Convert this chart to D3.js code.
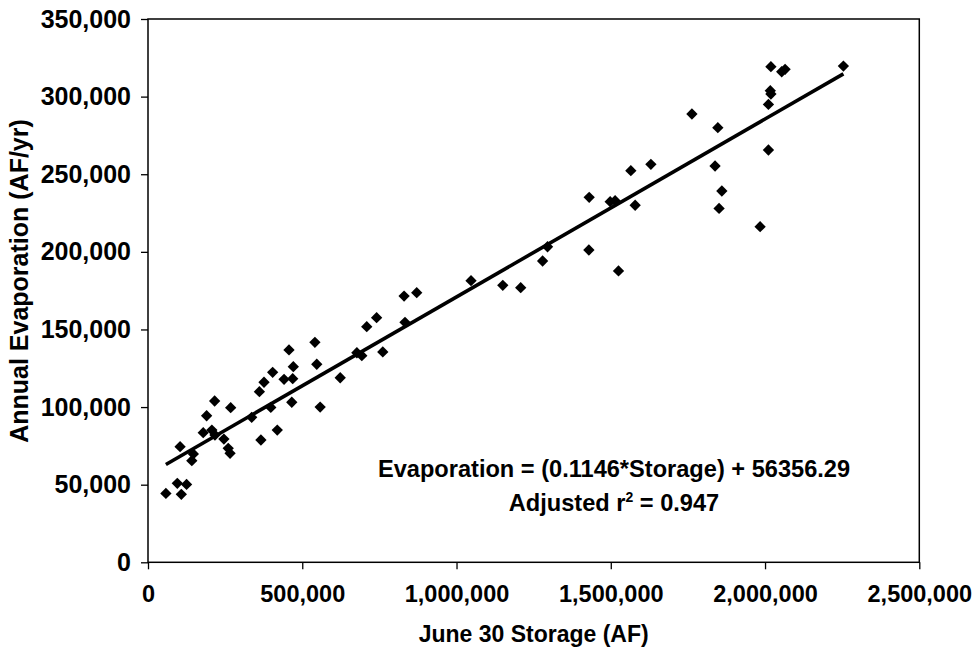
<!DOCTYPE html>
<html>
<head>
<meta charset="utf-8">
<script src="https://cdn.jsdelivr.net/npm/d3@7"></script>
<style>
  html, body { margin: 0; padding: 0; background: #fff; }
  svg text { font-family: "Liberation Sans", Arial, sans-serif; font-weight: bold; fill: #000; }
</style>
</head>
<body>
<div id="chart"></div>
<script>
// June 30 storage (AF) and annual evaporation (AF/yr)
const storage = [
  58000, 95000, 125000, 108000, 104000, 147000, 142000, 179000, 190000, 216000,
  207000, 217000, 246000, 260000, 266000, 268000, 336000, 366000, 361000, 376000,
  404000, 398000, 419000, 441000, 457000, 471000, 469000, 466000, 541000, 547000,
  558000, 623000, 677000, 693000, 761000, 709000, 741000, 833000, 830000, 871000,
  1047000, 1150000, 1208000, 1279000, 1295000, 1429000, 1430000, 1525000, 1498000, 1514000,
  1579000, 1565000, 1630000, 1838000, 1860000, 1851000, 1763000, 1847000, 1984000, 2011000,
  2011000, 2017000, 2019000, 2019000, 2054000, 2065000, 2254000,
];
const evaporation = [
  44400, 50900, 50200, 43800, 74500, 69800, 65500, 83500, 94400, 103900,
  85200, 82000, 79400, 73400, 70200, 99600, 93400, 78800, 109900, 116000,
  122400, 99800, 85200, 117900, 136800, 126000, 118300, 103100, 141700, 127600,
  100000, 118900, 135000, 133100, 135500, 151800, 157600, 154600, 171500, 173700,
  181400, 178400, 176900, 194100, 203300, 201200, 235100, 187700, 232300, 232900,
  230000, 252300, 256400, 255300, 239200, 228000, 288800, 280000, 216200, 265600,
  295000, 303800, 301700, 319300, 316000, 317600, 319700,
];

const xTicks = [0, 500000, 1000000, 1500000, 2000000, 2500000];
const yTicks = [0, 50000, 100000, 150000, 200000, 250000, 300000, 350000];

// fitted line as printed on the chart
const slope = 0.1146;
const intercept = 56356.29;

const width = 974;
const height = 649;
const margin = { top: 19, right: 54.7, bottom: 86.7, left: 148 };

const svg = d3.select('#chart')
  .append('svg')
  .attr('width', width)
  .attr('height', height);

const x = d3.scaleLinear()
  .domain([0, 2500000])
  .range([margin.left, width - margin.right]);

const y = d3.scaleLinear()
  .domain([0, 350000])
  .range([height - margin.bottom, margin.top]);

const fmt = d3.format(',');

// x axis
const xAxis = svg.append('g')
  .attr('transform', `translate(0,${y(0)})`)
  .call(d3.axisBottom(x).tickValues(xTicks).tickFormat(fmt).tickSize(7).tickPadding(16));
xAxis.select('.domain').remove();
xAxis.selectAll('line').attr('stroke', '#000').attr('stroke-width', 1.3);
xAxis.selectAll('text').attr('font-size', 23.5).attr('font-family', null);

// y axis
const yAxis = svg.append('g')
  .attr('transform', `translate(${x(0)},0)`)
  .call(d3.axisLeft(y).tickValues(yTicks).tickFormat(fmt).tickSize(7).tickPadding(10));
yAxis.select('.domain').remove();
yAxis.selectAll('line').attr('stroke', '#000').attr('stroke-width', 1.3);
yAxis.selectAll('text').attr('font-size', 25).attr('font-family', null);

// plot frame
svg.append('rect')
  .attr('x', x(0))
  .attr('y', y(350000))
  .attr('width', x(2500000) - x(0))
  .attr('height', y(0) - y(350000))
  .attr('fill', 'none')
  .attr('stroke', '#000')
  .attr('stroke-width', 1.5);

// regression line over the data range
const xMin = d3.min(storage);
const xMax = d3.max(storage);
svg.append('line')
  .attr('x1', x(xMin))
  .attr('y1', y(slope * xMin + intercept))
  .attr('x2', x(xMax))
  .attr('y2', y(slope * xMax + intercept))
  .attr('stroke', '#000')
  .attr('stroke-width', 3.6);

// diamonds
const diamond = d3.symbol().type(d3.symbolSquare).size(64);
svg.append('g')
  .selectAll('path')
  .data(storage.map((s, i) => [s, evaporation[i]]))
  .join('path')
  .attr('d', diamond)
  .attr('transform', d => `translate(${x(d[0])},${y(d[1])}) rotate(45)`)
  .attr('fill', '#000');

// axis titles
svg.append('text')
  .attr('x', (x(0) + x(2500000)) / 2)
  .attr('y', 642)
  .attr('text-anchor', 'middle')
  .attr('font-size', 23)
  .text('June 30 Storage (AF)');

svg.append('text')
  .attr('transform', `translate(28,281) rotate(-90)`)
  .attr('text-anchor', 'middle')
  .attr('font-size', 25)
  .text('Annual Evaporation (AF/yr)');

// equation
svg.append('text')
  .attr('x', 614)
  .attr('y', 477)
  .attr('text-anchor', 'middle')
  .attr('font-size', 23.6)
  .text('Evaporation = (0.1146*Storage) + 56356.29');

const r2 = svg.append('text')
  .attr('x', 614)
  .attr('y', 511)
  .attr('text-anchor', 'middle')
  .attr('font-size', 23.6);
r2.append('tspan').text('Adjusted r');
r2.append('tspan').attr('dy', -9).attr('font-size', 14).text('2');
r2.append('tspan').attr('dy', 9).text(' = 0.947');
</script>
</body>
</html>
